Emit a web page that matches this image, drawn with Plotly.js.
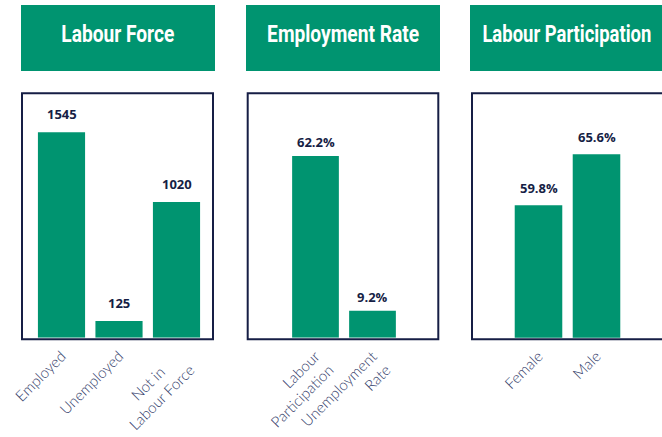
<!DOCTYPE html>
<html><head><meta charset="utf-8">
<script src="https://cdn.plot.ly/plotly-3.0.1.min.js"></script>
<style>html,body{margin:0;padding:0;background:#fff;overflow:hidden}#chart{width:662px;height:437px}</style>
</head><body><div id="chart"></div>
<script>
// ---- data ----
const panelTitles = ["Labour Force", "Employment Rate", "Labour Participation"];
const forceCategories = ["Employed", "Unemployed", "Not in<br>Labour Force"];
const forceValues = [1545, 125, 1020];
const rateCategories = ["Labour<br>Participation", "Unemployment<br>Rate"];
const rateValues = [62.2, 9.2];
const participationCategories = ["Female", "Male"];
const participationValues = [59.8, 65.6];

// ---- style ----
const W = 662, H = 437;
const GREEN = "#009470";
const NAVY = "#161e45";
const TICK = "#343d6a";
const px = x => x / W;
const py = y => 1 - y / H;

const yDom = [py(337.7), py(93.3)];

function bar(cats, vals, xa, ya) {
  return {type: "bar", x: cats, y: vals, xaxis: xa, yaxis: ya,
    marker: {color: GREEN, line: {width: 0}}, hoverinfo: "x+y", cliponaxis: true};
}
const data = [
  bar(forceCategories, forceValues, "x", "y"),
  bar(rateCategories, rateValues, "x2", "y2"),
  bar(participationCategories, participationValues, "x3", "y3")
];

function xax(dom, n) {
  return {domain: dom, type: "category", range: [-0.5, n - 0.5], tickangle: -45,
    showline: false, showgrid: false, zeroline: false, ticks: "", ticklabelstandoff: 6,
    tickfont: {family: "Lato, 'Open Sans', sans-serif", size: 15, color: TICK, weight: 300},
    fixedrange: true};
}
function yax(range) {
  return {domain: yDom, range: range, visible: false, showgrid: false, zeroline: false, fixedrange: true};
}

function valueLabels(cats, vals, xa, ya, fmt, shift) {
  return cats.map((c, i) => ({xref: xa, yref: ya, x: c, y: vals[i], text: fmt(vals[i]),
    showarrow: false, yanchor: "middle", yshift: shift,
    font: {family: "'Open Sans', Lato, sans-serif", size: 13, color: NAVY, weight: 700}}));
}
const pct = v => v.toFixed(1) + "%";
const num = v => String(v);

const headers = [[21, 215], [246, 440], [470, 664]];
const headerTextWidths = [113, 152, 169];
const borders = [[22, 213], [247.7, 438.3], [472, 673]];

const shapes = [];
const annotations = [];
headers.forEach((h, i) => {
  shapes.push({type: "rect", xref: "paper", yref: "paper", x0: px(h[0]), x1: px(h[1]),
    y0: py(71), y1: py(5), fillcolor: GREEN, line: {width: 0}, layer: "below"});
  annotations.push({xref: "paper", yref: "paper", x: px((h[0] + h[1]) / 2), y: py(34),
    text: panelTitles[i], showarrow: false, xanchor: "center", yanchor: "middle",
    font: {family: "Roboto, 'Liberation Sans', sans-serif", size: 24, color: "#ffffff", weight: 700, stretch: "condensed"}});
});
borders.forEach(b => {
  shapes.push({type: "rect", xref: "paper", yref: "paper", x0: px(b[0]), x1: px(b[1]),
    y0: py(339.2), y1: py(93.3), line: {color: NAVY, width: 2}, fillcolor: "rgba(0,0,0,0)", layer: "above"});
});

annotations.push(...valueLabels(forceCategories, forceValues, "x", "y", num, 18));
annotations.push(...valueLabels(rateCategories, rateValues, "x2", "y2", pct, 14));
annotations.push(...valueLabels(participationCategories, participationValues, "x3", "y3", pct, 17));

const layout = {
  width: W, height: H, margin: {l: 0, r: 0, t: 0, b: 0},
  paper_bgcolor: "#ffffff", plot_bgcolor: "rgba(0,0,0,0)",
  showlegend: false, bargap: 0.18,
  xaxis: xax([px(32.75), px(205.25)], 3),
  xaxis2: xax([px(287), px(401)], 2),
  xaxis3: xax([px(509.5), px(625.5)], 2),
  yaxis: yax([0, 1838]),
  yaxis2: yax([0, 83.66]),
  yaxis3: yax([44.73, 72.52]),
  shapes: shapes, annotations: annotations
};

Plotly.newPlot("chart", data, layout, {displayModeBar: false, staticPlot: true}).then(gd => {
  // condense the header titles to the reference's narrow lettering
  gd.querySelectorAll("text.annotation-text").forEach(t => {
    const i = panelTitles.indexOf(t.textContent);
    if (i >= 0) {
      t.setAttribute("textLength", headerTextWidths[i]);
      t.setAttribute("lengthAdjust", "spacingAndGlyphs");
    }
  });
  // centre the lines of multi-line tick labels on each other
  gd.querySelectorAll(".xtick text").forEach(t => {
    const lines = t.querySelectorAll("tspan.line");
    if (lines.length < 2) return;
    const widths = Array.from(lines).map(l => l.getComputedTextLength());
    const maxW = Math.max(...widths);
    lines.forEach((l, k) => {
      const x0 = parseFloat(l.getAttribute("x") || t.getAttribute("x") || 0);
      l.setAttribute("x", x0 - (maxW - widths[k]) / 2);
    });
  });
});
</script>
</body></html>
